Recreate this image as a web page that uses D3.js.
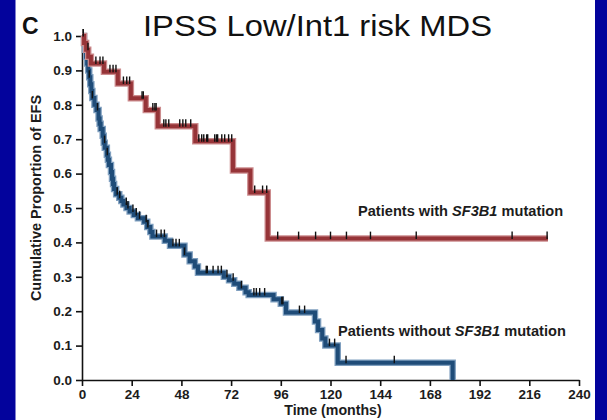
<!DOCTYPE html>
<html>
<head>
<meta charset="utf-8">
<script src="https://cdn.jsdelivr.net/npm/d3@7"></script>
<style>
  html, body { margin: 0; padding: 0; background: #03039c; }
  svg { display: block; }
  .tick text { font-family: "Liberation Sans", Arial, sans-serif; font-weight: bold; font-size: 13.5px; fill: #1c1c1c; }
</style>
</head>
<body>
<svg id="chart"></svg>
<script>
// === Data ===
// steps: [time in months, EFS after the drop]
const withSteps = [
    [0, 1.0], [1, 0.98], [2, 0.96], [3, 0.94], [4.3, 0.92], [10.6, 0.896], [17.3, 0.862],
    [23.6, 0.819], [30.8, 0.785], [36.6, 0.738], [54.7, 0.694], [72.9, 0.609],
    [81.3, 0.545], [89.7, 0.411]
];
const withEnd = 225;
const withCensor = [
    0.6, 2.9, 6.7, 8.7, 10.1, 13.5, 15, 16.4, 20, 21.6, 23, 29, 29.6, 34.2, 35.2, 35.8,
    39.5, 40.5, 41.9, 47.2, 48.7, 50.1, 52.5, 56.4, 57.8, 58.8, 60.2, 60.7, 64.1, 65,
    65.5, 67.5, 68.9, 70.8, 72.3, 83.4, 87.2, 89.2, 94.5, 104.6, 112.8, 120, 127.7,
    139.3, 161.4, 207.7, 224.6
];

const withoutSteps = [
    [0, 1.0], [1, 0.98], [1.5, 0.96], [2, 0.94], [2.5, 0.92], [3, 0.90], [3.5, 0.88],
    [4, 0.86], [4.5, 0.84], [5, 0.82], [6, 0.80], [7, 0.785], [8, 0.76], [8.5, 0.745],
    [9, 0.73], [10, 0.71], [10.5, 0.69], [11, 0.675], [12, 0.655], [12.5, 0.64],
    [13, 0.625], [14, 0.605], [14.5, 0.585], [15, 0.57], [15.5, 0.555], [16.5, 0.54],
    [18, 0.53], [19, 0.52], [20, 0.51], [21.5, 0.50], [23, 0.49], [25, 0.48], [27, 0.47],
    [30, 0.46], [31.5, 0.445], [33, 0.43], [34, 0.417], [40, 0.405], [42.5, 0.39],
    [49.5, 0.365], [52, 0.345], [54.5, 0.33], [56, 0.312], [68.5, 0.30], [71, 0.29],
    [73.5, 0.28], [76, 0.268], [79, 0.255], [80.5, 0.247], [92.5, 0.235], [96, 0.222],
    [98.5, 0.196], [112.5, 0.17], [114, 0.145], [116, 0.121], [117.5, 0.100],
    [123.5, 0.050], [179, 0.0]
];
const withoutEnd = 179;
const withoutCensor = [
    0.6, 1.5, 3.5, 5, 7.5, 10.9, 12.2, 17, 18.2, 21.4, 22.2, 24.6, 26.2, 27.8, 31, 31.8,
    36, 38.2, 39.8, 43.9, 45.4, 47, 49.5, 60, 60.5, 63.3, 65.7, 67.3, 70, 73, 77, 83,
    84.2, 85.8, 88.2, 96.5, 97, 105, 107.5, 119.5, 122, 127.5, 150.8
];

const xTicks = [0, 24, 48, 72, 96, 120, 144, 168, 192, 216, 240];
const yTicks = [0, 0.1, 0.2, 0.3, 0.4, 0.5, 0.6, 0.7, 0.8, 0.9, 1.0];

// === Layout ===
const W = 607, H = 420;
const svg = d3.select("#chart").attr("width", W).attr("height", H);

svg.append("rect").attr("x", 15.5).attr("y", 0).attr("width", 579.5).attr("height", H).attr("fill", "#ffffff");

const x = d3.scaleLinear().domain([0, 240]).range([82, 579]);
const y = d3.scaleLinear().domain([0, 1]).range([380, 36]);

const font = '"Liberation Sans", Arial, sans-serif';

// title + panel letter
svg.append("text").attr("x", 143).attr("y", 36)
    .attr("font-family", font).attr("font-size", 30)
    .attr("textLength", 349).attr("lengthAdjust", "spacingAndGlyphs")
    .attr("fill", "#111").text("IPSS Low/Int1 risk MDS");
svg.append("text").attr("x", 22).attr("y", 34)
    .attr("font-family", font).attr("font-size", 23).attr("font-weight", "bold")
    .attr("fill", "#111").text("C");

// axes
const yAxis = svg.append("g").attr("transform", "translate(82,0)")
    .call(d3.axisLeft(y).tickValues(yTicks).tickFormat(d3.format(".1f")).tickSize(6).tickSizeOuter(0).tickPadding(4));
const xAxis = svg.append("g").attr("transform", "translate(0,380)")
    .call(d3.axisBottom(x).tickValues(xTicks).tickSize(6).tickSizeOuter(0).tickPadding(3));
[yAxis, xAxis].forEach(a => {
    a.select(".domain").attr("stroke", "#111").attr("stroke-width", 1.6);
    a.selectAll(".tick line").attr("stroke", "#111").attr("stroke-width", 1.6);
});

svg.append("text")
    .attr("transform", "translate(41,198) rotate(-90)")
    .attr("text-anchor", "middle")
    .attr("font-family", font).attr("font-size", 14.5).attr("font-weight", "bold")
    .attr("fill", "#1c1c1c").text("Cumulative Proportion of EFS");
svg.append("text").attr("x", 333).attr("y", 415)
    .attr("text-anchor", "middle")
    .attr("font-family", font).attr("font-size", 14.2).attr("font-weight", "bold")
    .attr("fill", "#1c1c1c").text("Time (months)");

// === Curves ===
function survAt(steps, t) {
    let s = steps[0][1];
    for (const [ts, v] of steps) { if (ts <= t) s = v; }
    return s;
}
function stepPoints(steps, end) {
    const pts = steps.map(d => [d[0], d[1]]);
    const last = pts[pts.length - 1];
    if (last[0] < end) pts.push([end, last[1]]);
    return pts;
}
const line = d3.line().x(d => x(d[0])).y(d => y(d[1])).curve(d3.curveStepAfter);

function drawCurve(steps, end, censor, halo, core) {
    const pts = stepPoints(steps, end);
    const g = svg.append("g");
    g.append("path").attr("d", line(pts)).attr("fill", "none")
        .attr("stroke", halo).attr("stroke-width", 6.5).attr("stroke-linejoin", "miter");
    g.append("path").attr("d", line(pts)).attr("fill", "none")
        .attr("stroke", core).attr("stroke-width", 4).attr("stroke-linejoin", "miter");
    g.selectAll("line.cens").data(censor).enter().append("line")
        .attr("class", "cens")
        .attr("x1", d => x(d)).attr("x2", d => x(d))
        .attr("y1", d => y(survAt(steps, d)) - 7)
        .attr("y2", d => y(survAt(steps, d)) + 0.5)
        .attr("stroke", "#111").attr("stroke-width", 1.4);
}

drawCurve(withoutSteps, withoutEnd, withoutCensor, "#7f9fbf", "#1f4c78");
drawCurve(withSteps, withEnd, withCensor, "#cc8c8e", "#963438");

// === Labels ===
function label(xp, yp, before) {
    const t = svg.append("text").attr("x", xp).attr("y", yp)
        .attr("font-family", font).attr("font-size", 14.6).attr("font-weight", "bold")
        .attr("fill", "#1c1c1c");
    t.append("tspan").text(before);
    t.append("tspan").attr("font-style", "italic").text("SF3B1");
    t.append("tspan").text(" mutation");
}
label(358, 216, "Patients with ");
label(338, 336, "Patients without ");
</script>
</body>
</html>
